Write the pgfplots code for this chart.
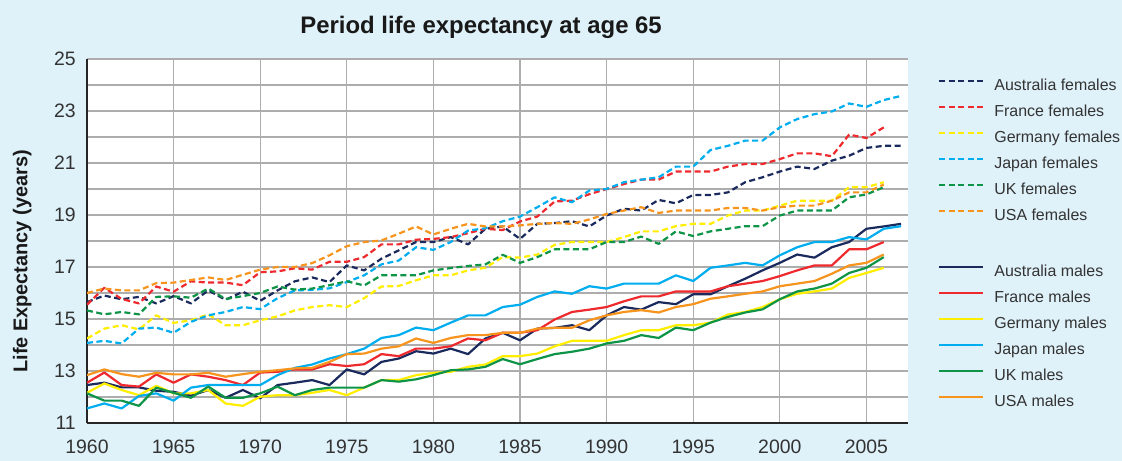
\documentclass[border=0pt]{standalone}
\usepackage{fontspec}
\setmainfont{Liberation Sans}
\usepackage{pgfplots}
\usepackage{pgfplotstable}
\pgfplotsset{compat=1.18}

\definecolor{bgblue}{HTML}{DFF1F9}
\definecolor{cAus}{HTML}{1B2A5C}
\definecolor{cFra}{HTML}{EE2A2E}
\definecolor{cGer}{HTML}{FFEE00}
\definecolor{cJpn}{HTML}{00AEEF}
\definecolor{cUK}{HTML}{0E9447}
\definecolor{cUSA}{HTML}{F7941D}
\definecolor{txt}{HTML}{333333}

% life expectancy at 65, females
\pgfplotstableread{
year aus fra ger jpn uk usa
1960 15.65 15.55 14.25 14.08 15.33 16.00
1961 15.90 16.20 14.63 14.16 15.18 16.17
1962 15.76 15.77 14.76 14.06 15.27 16.10
1963 15.85 15.60 14.60 14.63 15.18 16.10
1964 15.60 16.25 15.14 14.67 15.85 16.38
1965 15.88 16.05 14.85 14.47 15.87 16.40
1966 15.60 16.45 14.95 14.89 15.82 16.50
1967 16.10 16.40 15.18 15.14 16.17 16.60
1968 15.74 16.40 14.76 15.27 15.77 16.50
1969 16.05 16.30 14.76 15.46 15.88 16.70
1970 15.70 16.80 14.95 15.38 16.00 16.90
1971 16.10 16.83 15.10 15.80 16.25 17.00
1972 16.45 16.95 15.33 16.10 16.13 17.00
1973 16.60 16.90 15.46 16.12 16.17 17.15
1974 16.42 17.20 15.53 16.18 16.30 17.45
1975 17.06 17.20 15.46 16.42 16.45 17.80
1976 16.87 17.38 15.80 16.68 16.29 17.96
1977 17.32 17.87 16.25 17.10 16.68 18.02
1978 17.64 17.87 16.27 17.25 16.68 18.28
1979 17.96 18.05 16.49 17.76 16.68 18.56
1980 17.96 18.08 16.68 17.66 16.87 18.25
1981 18.15 18.15 16.68 17.96 16.96 18.47
1982 17.87 18.30 16.87 18.40 17.04 18.66
1983 18.47 18.47 16.97 18.49 17.10 18.56
1984 18.56 18.42 17.38 18.76 17.47 18.56
1985 18.08 18.75 17.36 18.94 17.16 18.60
1986 18.66 18.94 17.48 19.30 17.38 18.66
1987 18.69 19.52 17.85 19.68 17.68 18.69
1988 18.76 19.55 17.96 19.49 17.68 18.66
1989 18.56 19.80 17.96 19.94 17.68 18.83
1990 18.98 20.00 17.96 20.00 17.96 19.04
1991 19.24 20.19 18.15 20.26 17.96 19.17
1992 19.17 20.36 18.37 20.36 18.17 19.30
1993 19.58 20.36 18.37 20.45 17.89 19.08
1994 19.45 20.67 18.57 20.86 18.37 19.17
1995 19.77 20.67 18.66 20.86 18.19 19.17
1996 19.77 20.67 18.66 21.50 18.37 19.17
1997 19.87 20.86 18.98 21.66 18.47 19.27
1998 20.26 20.96 19.17 21.86 18.57 19.27
1999 20.45 20.96 19.17 21.86 18.57 19.17
2000 20.67 21.15 19.36 22.37 18.98 19.30
2001 20.86 21.37 19.55 22.69 19.17 19.36
2002 20.77 21.37 19.55 22.88 19.17 19.36
2003 21.09 21.26 19.55 22.98 19.17 19.55
2004 21.28 22.09 20.07 23.29 19.68 19.87
2005 21.58 21.96 20.07 23.16 19.79 19.87
2006 21.66 22.37 20.26 23.42 20.07 20.17
2007 21.66 nan nan 23.58 nan nan
}\females

% life expectancy at 65, males
\pgfplotstableread{
year aus fra ger jpn uk usa
1960 12.46 12.55 12.16 11.56 12.14 12.84
1961 12.55 12.94 12.52 11.75 11.86 13.06
1962 12.37 12.46 12.27 11.56 11.86 12.88
1963 12.37 12.40 12.07 12.04 11.66 12.78
1964 12.24 12.87 12.43 12.14 12.36 12.93
1965 12.20 12.55 12.14 11.86 12.16 12.87
1966 12.05 12.87 12.14 12.36 11.97 12.87
1967 12.27 12.78 12.27 12.46 12.40 12.93
1968 11.97 12.65 11.75 12.46 11.97 12.78
1969 12.27 12.46 11.66 12.46 11.97 12.88
1970 11.95 12.94 12.01 12.46 12.14 12.97
1971 12.46 12.97 12.07 12.84 12.40 13.03
1972 12.55 13.06 12.07 13.12 12.07 13.10
1973 12.65 13.06 12.16 13.25 12.27 13.12
1974 12.46 13.26 12.27 13.48 12.36 13.35
1975 13.06 13.19 12.07 13.65 12.36 13.65
1976 12.87 13.26 12.36 13.86 12.36 13.67
1977 13.35 13.65 12.65 14.27 12.65 13.86
1978 13.48 13.57 12.65 14.38 12.59 13.95
1979 13.76 13.86 12.84 14.67 12.68 14.25
1980 13.67 13.86 12.93 14.57 12.84 14.08
1981 13.86 13.95 12.97 14.86 13.03 14.27
1982 13.65 14.25 13.16 15.14 13.06 14.38
1983 14.25 14.18 13.25 15.14 13.16 14.38
1984 14.47 14.47 13.57 15.46 13.46 14.47
1985 14.18 14.47 13.57 15.55 13.26 14.47
1986 14.63 14.57 13.67 15.85 13.46 14.63
1987 14.66 14.98 13.95 16.06 13.65 14.66
1988 14.76 15.27 14.16 15.97 13.74 14.66
1989 14.57 15.36 14.16 16.26 13.86 14.95
1990 15.14 15.46 14.16 16.17 14.06 15.14
1991 15.46 15.68 14.38 16.36 14.16 15.27
1992 15.36 15.87 14.57 16.36 14.38 15.34
1993 15.65 15.87 14.57 16.36 14.27 15.25
1994 15.57 16.06 14.76 16.68 14.67 15.46
1995 15.95 16.06 14.76 16.46 14.57 15.57
1996 15.95 16.06 14.86 16.97 14.86 15.78
1997 16.26 16.26 15.17 17.06 15.08 15.87
1998 16.55 16.36 15.27 17.16 15.25 15.97
1999 16.87 16.46 15.46 17.06 15.37 16.06
2000 17.16 16.65 15.76 17.45 15.76 16.26
2001 17.48 16.87 15.97 17.76 16.06 16.36
2002 17.36 17.06 16.06 17.96 16.17 16.46
2003 17.76 17.06 16.17 17.96 16.36 16.74
2004 17.96 17.68 16.58 18.15 16.77 17.06
2005 18.47 17.68 16.77 18.06 16.97 17.16
2006 18.56 17.96 16.97 18.47 17.38 17.48
2007 18.66 nan nan 18.57 nan nan
}\males

\begin{document}
\begin{tikzpicture}
\fill[bgblue] (0,0) rectangle (1122bp,461bp);
\begin{axis}[
  at={(87bp,38bp)}, anchor=south west,
  scale only axis, width=821bp, height=364bp,
  xmin=1960, xmax=2007.4, ymin=11, ymax=25,
  xtick={1960,1965,...,2005},
  ytick={11,13,...,25}, minor ytick={12,14,...,24},
  grid=both,
  grid style={draw=black!32, line width=1.2bp},
  minor grid style={draw=black!32, line width=1.2bp},
  axis lines*=left,
  axis line style={line width=2bp, black!85, -},
  major tick length=0pt, minor tick length=0pt,
  axis background/.style={fill=white},
  /pgf/number format/assume math mode=true,
  /pgf/number format/1000 sep={},
  ticklabel style={font=\fontsize{19.5}{22}\selectfont, text=txt},
  xticklabel style={anchor=base, yshift=-31bp},
  yticklabel style={anchor=east, inner sep=0pt, xshift=-11bp},
  ylabel={Life Expectancy (years)},
  ylabel style={at={(axis description cs:-0.079,0.444)}, anchor=center, rotate=0,
    font=\bfseries\fontsize{20}{22}\selectfont, text=black!90},
  title={Period life expectancy at age 65},
  title style={at={(axis description cs:0.48,1.071)}, anchor=center,
    font=\bfseries\fontsize{24}{26}\selectfont, text=black!90},
  legend style={at={(axis description cs:1.0365,0.946)}, anchor=north west,
    draw=none, fill=none, inner sep=0pt, row sep=10bp,
    font=\fontsize{16}{18}\selectfont, text=txt,
    nodes={inner sep=0pt, text height=12bp, text depth=4bp}},
  legend cell align=left,
  legend image code/.code={\draw[#1] (0bp,5.5bp) -- (44bp,5.5bp); \path (54bp,0bp);},
  every axis plot/.append style={line width=2.2bp, line join=round},
  fem/.style={dash pattern=on 6bp off 3.5bp},
]
\addplot[cAus, fem] table[x=year, y=aus] {\females};
\addlegendentry{Australia females}
\addplot[cFra, fem] table[x=year, y=fra] {\females};
\addlegendentry{France females}
\addplot[cGer, fem] table[x=year, y=ger] {\females};
\addlegendentry{Germany females}
\addplot[cJpn, fem] table[x=year, y=jpn] {\females};
\addlegendentry{Japan females}
\addplot[cUK, fem] table[x=year, y=uk] {\females};
\addlegendentry{UK females}
\addplot[cUSA, fem] table[x=year, y=usa] {\females};
\addlegendentry{USA females}
\addlegendimage{empty legend}
\addlegendentry[text height=16bp]{}
\addplot[cAus] table[x=year, y=aus] {\males};
\addlegendentry{Australia males}
\addplot[cFra] table[x=year, y=fra] {\males};
\addlegendentry{France males}
\addplot[cGer] table[x=year, y=ger] {\males};
\addlegendentry{Germany males}
\addplot[cJpn] table[x=year, y=jpn] {\males};
\addlegendentry{Japan males}
\addplot[cUK] table[x=year, y=uk] {\males};
\addlegendentry{UK males}
\addplot[cUSA] table[x=year, y=usa] {\males};
\addlegendentry{USA males}
\end{axis}
\end{tikzpicture}
\end{document}
